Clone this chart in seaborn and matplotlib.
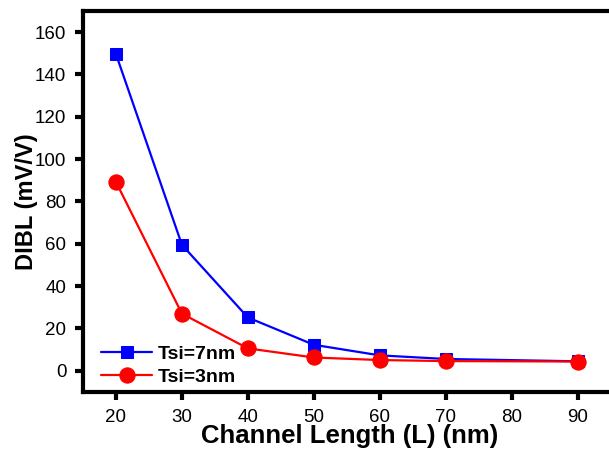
import matplotlib
matplotlib.use("Agg")
import matplotlib.pyplot as plt
import seaborn as sns
import pandas as pd

# Channel length (nm) and DIBL (mV/V) for two silicon thicknesses
channel_length = [20, 30, 40, 50, 60, 70, 90]
dibl_tsi7 = [149.6, 59.5, 25.2, 12.3, 7.3, 5.6, 4.5]
dibl_tsi3 = [89.2, 27.0, 10.6, 6.3, 5.1, 4.6, 4.4]
x_ticks = [20, 30, 40, 50, 60, 70, 80, 90]
y_ticks = [0, 20, 40, 60, 80, 100, 120, 140, 160]

df7 = pd.DataFrame({"L": channel_length, "DIBL": dibl_tsi7})
df3 = pd.DataFrame({"L": channel_length, "DIBL": dibl_tsi3})

sns.set_theme(style="white")
plt.rcParams["font.family"] = ["Liberation Sans", "DejaVu Sans"]
plt.rcParams["text.color"] = "black"
plt.rcParams["axes.labelcolor"] = "black"

fig = plt.figure(figsize=(6.09, 4.5), dpi=100)
# the plotting box runs past the right edge of the figure
ax = fig.add_axes([0.1363, 0.1289, 0.875, 0.8467])

sns.lineplot(data=df7, x="L", y="DIBL", ax=ax, color="#0000ff", marker="s",
             markersize=9, markeredgecolor="#0000ff", linewidth=1.6,
             label="Tsi=7nm")
sns.lineplot(data=df3, x="L", y="DIBL", ax=ax, color="#ff0000", marker="o",
             markersize=11, markeredgecolor="#ff0000", linewidth=1.6,
             label="Tsi=3nm")

ax.set_xlim(15, 95.8)
ax.set_ylim(-10, 170)
ax.set_xticks(x_ticks)
ax.set_yticks(y_ticks)
ax.tick_params(axis="both", direction="out", length=6, width=3,
               labelsize=13.5, color="black", labelcolor="black",
               bottom=True, left=True, pad=6)

for side in ["left", "bottom", "top"]:
    ax.spines[side].set_linewidth(3)
    ax.spines[side].set_color("black")
ax.spines["right"].set_visible(False)

ax.set_xlabel("Channel Length (L) (nm)", fontsize=18.5, fontweight="bold",
              labelpad=-1, color="black")
ax.set_ylabel("DIBL (mV/V)", fontsize=17, fontweight="bold", labelpad=-2,
              color="black")

leg = ax.legend(loc="lower left", frameon=False,
                prop={"weight": "bold", "size": 14}, handlelength=2.6,
                borderaxespad=0.0, labelspacing=0.3, handletextpad=0.3,
                bbox_to_anchor=(0.02, -0.005))
for t in leg.get_texts():
    t.set_color("black")

fig.savefig("out.png", dpi=100)
